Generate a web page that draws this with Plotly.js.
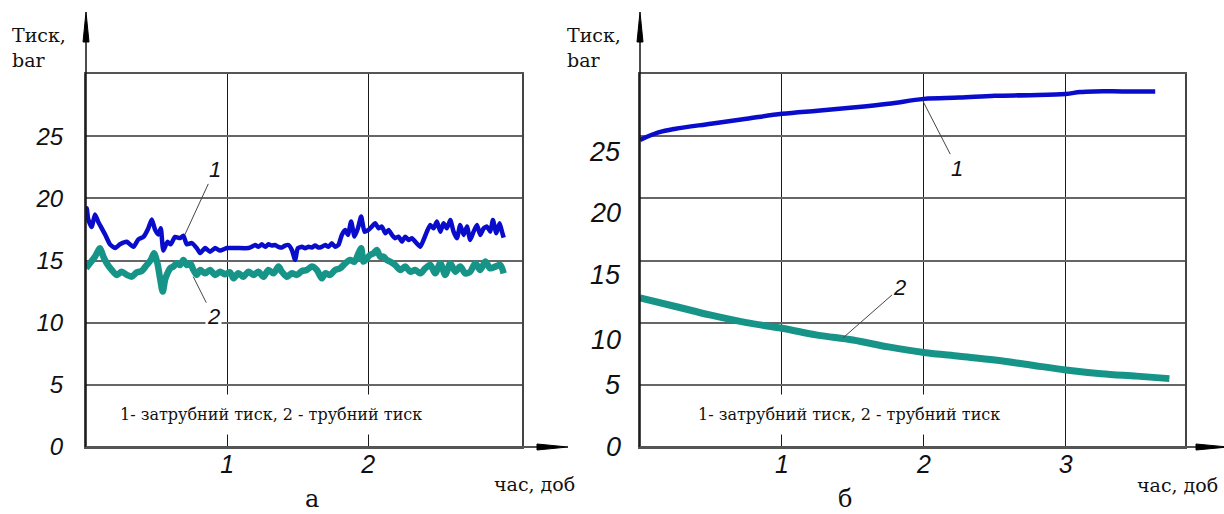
<!DOCTYPE html>
<html>
<head>
<meta charset="utf-8">
<script src="https://cdn.plot.ly/plotly-3.0.1.min.js"></script>
<style>html,body{margin:0;padding:0;background:#fff;}#chart{width:1224px;height:514px;}</style>
</head>
<body>
<div id="chart"></div>
<script>
// ---- Panel (а): field pressure records ----
const tA1 = [0.000,0.005,0.016,0.040,0.064,0.087,0.111,0.135,0.170,0.206,0.241,0.289,0.336,0.371,0.407,0.442,0.466,0.489,0.513,0.530,0.548,0.577,0.600,0.631,0.667,0.690,0.714,0.750,0.785,0.809,0.844,0.879,0.915,0.950,0.998,
  1.069,1.151,1.175,1.199,1.222,1.246,1.270,1.293,1.317,1.340,1.364,1.388,1.411,1.435,1.459,1.482,1.501,1.530,1.553,1.577,1.600,1.624,1.648,1.671,1.695,1.718,1.742,1.766,1.789,1.813,1.837,1.856,1.879,1.903,1.927,1.950,1.974,2.002,2.026,
  2.050,2.073,2.097,2.121,2.144,2.168,2.191,2.215,2.239,2.262,2.286,2.310,2.333,2.369,2.392,2.416,2.440,2.463,2.487,2.511,2.534,2.558,2.582,2.605,2.629,2.652,2.676,2.700,2.723,2.747,2.771,2.794,2.818,2.842,2.865,2.884,2.908,2.931,2.948,2.960];
const pA1 = [18.9,19.2,18.3,17.7,18.7,18.1,17.6,17.1,16.3,16.0,16.3,16.5,16.1,16.7,16.9,17.6,18.3,17.5,17.1,17.6,15.8,16.5,16.3,16.9,16.8,17.0,16.3,16.4,16.0,15.6,16.0,15.7,16.0,15.8,16.0,
  16.0,16.0,16.1,16.25,16.1,16.3,16.1,16.3,16.2,16.25,16.1,16.04,16.2,16.25,15.85,15.04,15.98,16.1,15.98,16.1,16.04,16.2,16.04,16.1,16.25,16.1,16.38,16.1,16.25,17.06,17.46,17.06,18.13,16.92,17.59,18.53,17.32,17.46,17.73,
  17.99,17.59,17.73,17.19,17.46,17.06,16.79,16.92,16.52,16.92,16.65,16.79,16.52,16.11,16.65,17.32,17.86,17.59,18.13,17.32,17.99,17.59,18.26,17.32,16.79,17.86,17.06,17.73,16.65,17.32,17.86,17.06,17.59,17.73,17.32,18.26,17.19,17.99,17.32,16.84];

const tA2 = [0.000,0.028,0.064,0.099,0.123,0.147,0.182,0.218,0.253,0.289,0.324,0.359,0.395,0.430,0.459,0.482,0.506,0.525,0.544,0.560,0.577,0.596,0.619,0.643,0.667,0.690,0.714,0.738,0.761,0.785,0.809,0.844,0.879,0.915,0.950,0.986,1.021,
  1.045,1.080,1.116,1.151,1.187,1.222,1.258,1.293,1.329,1.364,1.388,1.423,1.459,1.494,1.530,1.565,1.600,1.636,1.671,1.695,1.730,1.766,1.801,1.837,1.872,1.903,1.931,1.950,1.967,1.991,2.014,
  2.038,2.061,2.085,2.109,2.132,2.156,2.191,2.227,2.262,2.298,2.333,2.369,2.404,2.440,2.475,2.511,2.546,2.582,2.617,2.652,2.688,2.723,2.759,2.794,2.830,2.865,2.901,2.936,2.960];
const pA2 = [14.37,14.78,15.31,15.98,15.31,14.78,14.24,13.84,14.10,13.84,13.70,14.05,14.16,14.64,15.04,15.58,14.78,13.57,12.50,13.44,13.97,14.37,14.51,14.78,14.64,15.04,14.64,14.78,14.24,13.84,14.24,13.97,14.24,13.84,14.10,13.89,14.05,
  13.57,13.97,13.70,14.10,13.84,14.10,13.70,14.24,13.97,14.51,14.10,13.70,13.97,13.84,14.16,14.24,14.51,14.24,13.57,13.97,13.84,14.24,14.37,14.78,15.04,14.91,15.58,15.98,14.91,15.18,15.45,
  15.58,15.85,15.31,15.31,15.04,14.91,14.64,14.24,14.51,14.10,14.24,13.97,14.37,14.64,13.97,14.78,13.84,14.78,14.10,14.51,13.97,14.10,14.78,14.24,14.91,14.37,14.51,14.64,13.97];

// ---- Panel (б): model curves ----
const tB1 = [0, 0.13, 0.25, 0.5, 0.75, 1.0, 1.25, 1.5, 1.75, 2.0, 2.25, 2.5, 2.75, 3.0, 3.1, 3.2, 3.4, 3.63];
const pB1 = [24.7, 25.3, 25.6, 26.0, 26.4, 26.8, 27.05, 27.3, 27.6, 28.0, 28.1, 28.25, 28.3, 28.4, 28.55, 28.6, 28.6, 28.6];
const tB2 = [0, 0.25, 0.5, 0.75, 1, 1.25, 1.5, 1.75, 2, 2.25, 2.5, 2.75, 3, 3.25, 3.5, 3.73];
const pB2 = [12.0, 11.3, 10.6, 10.0, 9.55, 9.0, 8.6, 8.05, 7.6, 7.3, 7.0, 6.6, 6.2, 5.9, 5.7, 5.5];

// tick labels
const yTickVals = [0, 5, 10, 15, 20, 25];
const yTickText = ['0', '5', '10', '15', '20', '25'];
const xTickValsA = [1, 2];
const xTickValsB = [1, 2, 3];
const yTickShiftB = [0, 0, -17, -14, -15, -16];   // label offsets in panel б (px)

const yTitle = 'Тиск,<br>bar';
const xTitle = 'час, доб';
const legendText = '1- затрубний тиск, 2 - трубний тиск';
const panelNames = ['а', 'б'];

const W = 1224, H = 514;
const PX = x => x / W, PY = y => 1 - y / H;

const BLUE = '#0a0ccc', TEAL = '#179488';

const traces = [
  {x: tA1, y: pA1, xaxis: 'x', yaxis: 'y', mode: 'lines', line: {color: BLUE, width: 4.5, shape: 'spline', smoothing: 0.5}, hoverinfo: 'skip'},
  {x: tA2, y: pA2, xaxis: 'x', yaxis: 'y', mode: 'lines', line: {color: TEAL, width: 6.5, shape: 'spline', smoothing: 0.8}, hoverinfo: 'skip'},
  {x: tB1, y: pB1, xaxis: 'x2', yaxis: 'y2', mode: 'lines', line: {color: BLUE, width: 4.5, shape: 'spline'}, hoverinfo: 'skip'},
  {x: tB2, y: pB2, xaxis: 'x2', yaxis: 'y2', mode: 'lines', line: {color: TEAL, width: 7, shape: 'spline'}, hoverinfo: 'skip'}
];

const sans = 'Liberation Sans';
const serif = "'DejaVu Serif', 'Liberation Serif', 'Times New Roman', serif";

const yDom = [PY(447), PY(74)];

function xAx(domain, maxv, vals) {
  return {domain: domain, range: [0, maxv], tickvals: vals, ticktext: vals.map(String),
    showgrid: true, gridcolor: '#1a1a1a', gridwidth: 1, zeroline: false,
    showline: true, linecolor: '#555', linewidth: 2, mirror: true, ticks: '',
    ticklabelstandoff: -6,
    tickfont: {family: sans, size: 25, style: 'italic', color: '#111'}, fixedrange: true};
}
function yAx(anchor, showLabels) {
  return {domain: yDom, range: [0, 30], anchor: anchor, tickvals: yTickVals, ticktext: yTickText,
    showgrid: true, gridcolor: '#666', gridwidth: 2, zeroline: false,
    showline: true, linecolor: '#444', linewidth: 2, mirror: true, ticks: '',
    showticklabels: showLabels, ticklabelstandoff: 16,
    tickfont: {family: sans, size: 24, style: 'italic', color: '#111'}, fixedrange: true};
}

const shapes = [];
function vline(x, y0, y1, c, w) { shapes.push({type: 'line', xref: 'paper', yref: 'paper', x0: PX(x), x1: PX(x), y0: PY(y0), y1: PY(y1), line: {color: c, width: w}}); }
function hline(y, x0, x1, c, w) { shapes.push({type: 'line', xref: 'paper', yref: 'paper', x0: PX(x0), x1: PX(x1), y0: PY(y), y1: PY(y), line: {color: c, width: w}}); }
function tri(pts) {
  const d = 'M ' + pts.map(p => PX(p[0]) + ',' + PY(p[1])).join(' L ') + ' Z';
  shapes.push({type: 'path', xref: 'paper', yref: 'paper', path: d, fillcolor: '#000', line: {color: '#000', width: 1}});
}
// axis extensions with arrowheads
vline(86, 447, 30, '#111', 1.5); tri([[86, 12], [83, 42], [89, 42]]);
hline(447, 86, 545, '#555', 2); tri([[568, 447], [537, 444], [537, 450]]);
vline(640, 447, 30, '#111', 1.5); tri([[640, 12], [637, 42], [643, 42]]);
hline(447, 640, 1205, '#555', 2); tri([[1228, 447], [1196, 444], [1196, 450]]);

const annotations = [];
function txt(x, y, t, font, extra) {
  annotations.push(Object.assign({xref: 'paper', yref: 'paper', x: PX(x), y: PY(y), text: t, showarrow: false, font: font,
    xanchor: 'center', yanchor: 'middle'}, extra || {}));
}
const serifFont = (s) => ({family: serif, size: s, color: '#111'});
// axis titles
txt(10, 22, yTitle, serifFont(19), {xanchor: 'left', yanchor: 'top', align: 'left'});
txt(565, 22, yTitle, serifFont(19), {xanchor: 'left', yanchor: 'top', align: 'left'});
txt(534, 484, xTitle, serifFont(19));
txt(1177, 485, xTitle, serifFont(19));
txt(312, 499, panelNames[0], serifFont(24));
txt(845, 499, panelNames[1], serifFont(24));
// legend notes with white box (interrupts grid lines)
txt(271, 414, legendText, serifFont(16), {bgcolor: '#fff', borderpad: 10});
txt(849, 414, legendText, serifFont(16), {bgcolor: '#fff', borderpad: 10});

// right panel y tick labels (offset like the original)
yTickVals.forEach((v, i) => {
  annotations.push({xref: 'paper', yref: 'y2', x: PX(640), y: v, xanchor: 'right', yanchor: 'middle', xshift: -17, yshift: yTickShiftB[i],
    text: yTickText[i], showarrow: false, font: {family: sans, size: 27, style: 'italic', color: '#111'}});
});

// curve labels with leader lines
function lbl(xr, yr, x, y, t, ax, ay) {
  annotations.push({xref: xr, yref: yr, x: x, y: y, text: t, showarrow: true, arrowhead: 0, arrowwidth: 1, arrowcolor: '#444',
    ax: ax, ay: ay, standoff: 0, bgcolor: '#fff', borderpad: 1,
    font: {family: sans, size: 22, style: 'italic', color: '#111'}});
}
lbl('x', 'y', 0.70, 17.06, '1', 30, -65);
lbl('x', 'y', 0.76, 13.7, '2', 20, 40);
lbl('x2', 'y2', 1.99, 27.9, '1', 35, 68);
lbl('x2', 'y2', 1.43, 8.77, '2', 57, -50);

const layout = {
  width: W, height: H, margin: {l: 0, r: 0, t: 0, b: 0},
  paper_bgcolor: '#fff', plot_bgcolor: '#fff', showlegend: false,
  xaxis: xAx([PX(86), PX(522)], 3.09, xTickValsA),
  yaxis: yAx('x', true),
  xaxis2: Object.assign(xAx([PX(640), PX(1185)], 3.84, xTickValsB), {anchor: 'y2'}),
  yaxis2: yAx('x2', false),
  shapes: shapes, annotations: annotations
};
layout.xaxis.anchor = 'y';

Plotly.newPlot('chart', traces, layout, {staticPlot: true, displayModeBar: false});
</script>
</body>
</html>
